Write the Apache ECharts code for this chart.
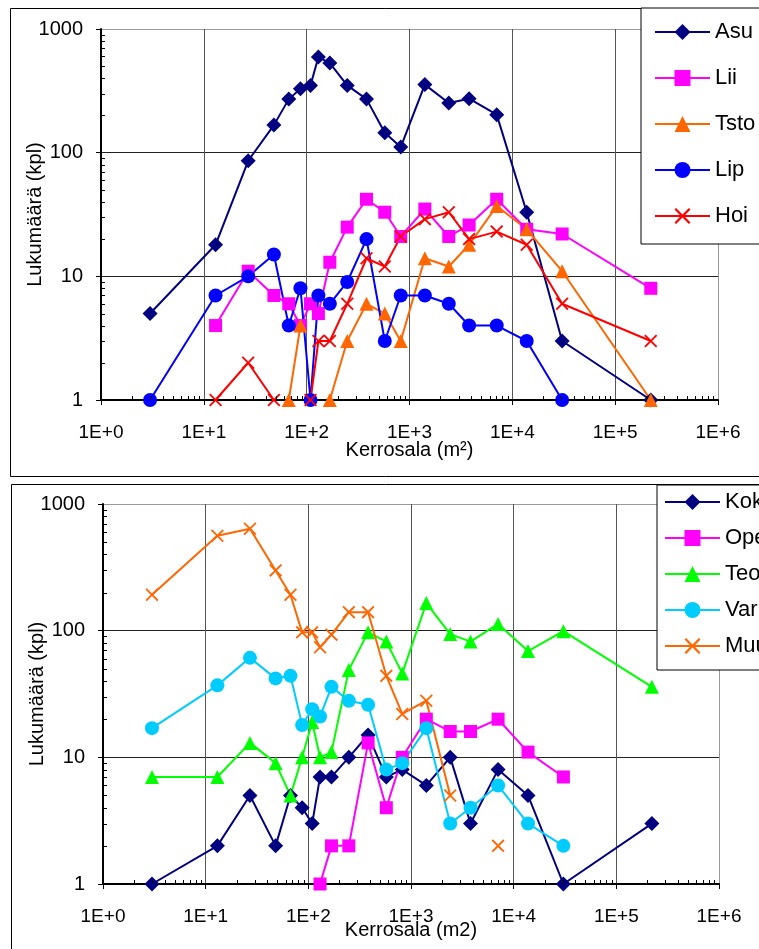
<!DOCTYPE html>
<html>
<head>
<meta charset="utf-8">
<script src="https://cdn.jsdelivr.net/npm/echarts@6/dist/echarts.min.js"></script>
<style>
  html, body { margin: 0; padding: 0; background: #fff; overflow: hidden; }
  #c { width: 759px; height: 949px; }
</style>
</head>
<body>
<div id="c"></div>
<script>
// Floor area classes (m2), shared by every series of both panels
const areas = [3, 13, 27, 48, 67, 87, 109, 130, 168, 248, 382, 575, 822, 1410, 2410, 3800, 7050, 13800, 30500, 222000];

// Upper panel: building counts per floor-area class
const asu  = [5, 18, 86, 167, 271, 329, 350, 593, 530, 350, 271, 145, 111, 355, 252, 273, 203, 33, 3, 1];
const lii  = [null, 4, 11, 7, 6, 4, 6, 5, 13, 25, 42, 33, 21, 35, 21, 26, 42, 24, 22, 8];
const tsto = [null, null, null, null, 1, 4, null, null, 1, 3, 6, 5, 3, 14, 12, 18, 37, 24, 11, 1];
const lip  = [1, 7, 10, 15, 4, 8, 1, 7, 6, 9, 20, 3, 7, 7, 6, 4, 4, 3, 1, null];
const hoi  = [null, 1, 2, 1, null, null, 1, 3, 3, 6, 14, 12, 21, 29, 33, 20, 23, 18, 6, 3];

// Lower panel
const kok = [1, 2, 5, 2, 5, 4, 3, 7, 7, 10, 15, 7, 8, 6, 10, 3, 8, 5, 1, 3];
const ope = [null, null, null, null, null, null, null, 1, 2, 2, 13, 4, 10, 20, 16, 16, 20, 11, 7, null];
const teo = [7, 7, 13, 9, 5, 10, 19, 10, 11, 49, 97, 82, 46, 165, 94, 82, 113, 69, 99, 36];
const vara = [17, 37, 61, 42, 44, 18, 24, 21, 36, 28, 26, 8, 9, 17, 3, 4, 6, 3, 2, null];
const muu = [192, 561, 637, 299, 192, 97, 97, 74, 93, 140, 140, 44, 22, 28, 5, null, 2, null, null, null];

const topNames = ['Asu', 'Lii', 'Tsto', 'Lip', 'Hoi'];
const bottomNames = ['Kok', 'Ope', 'Teo', 'Var', 'Muu'];

const FONT = '"Liberation Sans", Arial, sans-serif';
const X_MARK = 'path://M0,1.2L1.2,0L6,4.8L10.8,0L12,1.2L7.2,6L12,10.8L10.8,12L6,7.2L1.2,12L0,10.8L4.8,6Z';

function pairs(ys) {
  return areas.map((x, i) => [x, ys[i] == null ? '-' : ys[i]]);
}

function line(name, ys, color, symbol, size, g) {
  return {
    name: name,
    type: 'line',
    xAxisIndex: g,
    yAxisIndex: g,
    data: pairs(ys),
    symbol: symbol,
    symbolSize: size,
    showAllSymbol: true,
    clip: false,
    lineStyle: { color: color, width: 2 },
    itemStyle: { color: color },
    emphasis: { disabled: true },
    animation: false
  };
}

function xAxisCfg(g, title, gap) {
  return {
    type: 'log', logBase: 10, min: 1, max: 1e6, gridIndex: g,
    name: title, nameLocation: 'middle', nameGap: gap, nameMoveOverlap: false,
    nameTextStyle: { fontSize: 20, color: '#000', fontFamily: FONT },
    axisLine: { show: true, onZero: false, lineStyle: { color: '#000', width: 2 } },
    axisTick: { show: true, length: 5, lineStyle: { color: '#000', width: 1 } },
    axisLabel: {
      margin: 23, fontSize: 19, color: '#000', fontFamily: FONT,
      formatter: v => '1E+' + Math.round(Math.log10(v))
    },
    splitLine: { show: true, lineStyle: { color: ['#555', '#555', '#555', '#555', '#555', '#555', '#999'], width: 1 } }
  };
}

function yAxisCfg(g) {
  return {
    type: 'log', logBase: 10, min: 1, max: 1000, gridIndex: g,
    name: 'Lukumäärä (kpl)', nameLocation: 'middle', nameRotate: 90, nameGap: 56, nameMoveOverlap: false,
    nameTextStyle: { fontSize: 20, color: '#000', fontFamily: FONT },
    axisLine: { show: true, onZero: false, lineStyle: { color: '#000', width: 2 } },
    axisTick: { show: true, length: 5, lineStyle: { color: '#000', width: 1 } },
    axisLabel: { margin: 18, fontSize: 20, color: '#000', fontFamily: FONT, formatter: v => String(Math.round(v)) },
    splitLine: { show: true, lineStyle: { color: ['#000', '#222', '#222', '#999'], width: 1 } }
  };
}

function legendCfg(names, left, top, padding, gap) {
  return {
    data: names, orient: 'vertical', left: left, top: top,
    padding: padding, itemGap: gap, itemWidth: 55, itemHeight: 20,
    backgroundColor: '#fff', borderColor: '#000', borderWidth: 1,
    selectedMode: false,
    textStyle: { fontSize: 22, color: '#000', fontFamily: FONT }
  };
}

const chart = echarts.init(document.getElementById('c'), null, { renderer: 'canvas' });

chart.setOption({
  animation: false,
  backgroundColor: '#fff',
  grid: [
    { left: 101, top: 29, right: 41, height: 371, containLabel: false },
    { left: 103, top: 504, right: 40, height: 380, containLabel: false }
  ],
  xAxis: [xAxisCfg(0, 'Kerrosala (m²)', 40), xAxisCfg(1, 'Kerrosala (m2)', 36)],
  yAxis: [yAxisCfg(0), yAxisCfg(1)],
  legend: [
    legendCfg(topNames, 641, 8, [13, 80, 17, 13], 24),
    legendCfg(bottomNames, 657, 485, [6, 80, 13, 7], 14)
  ],
  series: [
    line('Asu', asu, '#000080', 'diamond', 15, 0),
    line('Lii', lii, '#FF00FF', 'rect', 13, 0),
    line('Tsto', tsto, '#FF6600', 'triangle', 14, 0),
    line('Lip', lip, '#0000FF', 'circle', 14, 0),
    line('Hoi', hoi, '#FF0000', X_MARK, 13, 0),
    line('Kok', kok, '#000080', 'diamond', 15, 1),
    line('Ope', ope, '#FF00FF', 'rect', 13, 1),
    line('Teo', teo, '#00FF00', 'triangle', 14, 1),
    line('Var', vara, '#00CCFF', 'circle', 14, 1),
    line('Muu', muu, '#FF6600', X_MARK, 13, 1)
  ]
});

// Panel frames and logarithmic minor ticks on both axes
const extras = [
  { type: 'rect', z: 0, shape: { x: 10.5, y: 8.5, width: 800, height: 468 }, style: { fill: 'none', stroke: '#000', lineWidth: 1 } },
  { type: 'rect', z: 0, shape: { x: 11.5, y: 484.5, width: 800, height: 500 }, style: { fill: 'none', stroke: '#000', lineWidth: 1 } }
];
[0, 1].forEach(g => {
  const yBase = chart.convertToPixel({ yAxisIndex: g }, 1);
  const xBase = chart.convertToPixel({ xAxisIndex: g }, 1);
  for (let e = 0; e < 6; e++) {
    for (let k = 2; k <= 9; k++) {
      const px = Math.round(chart.convertToPixel({ xAxisIndex: g }, k * Math.pow(10, e))) + 0.5;
      extras.push({ type: 'line', z: 5, shape: { x1: px, y1: yBase, x2: px, y2: yBase - 4 }, style: { stroke: '#000', lineWidth: 1 } });
    }
  }
  for (let e = 0; e < 3; e++) {
    for (let k = 2; k <= 9; k++) {
      const py = Math.round(chart.convertToPixel({ yAxisIndex: g }, k * Math.pow(10, e))) + 0.5;
      extras.push({ type: 'line', z: 5, shape: { x1: xBase, y1: py, x2: xBase + 4, y2: py }, style: { stroke: '#000', lineWidth: 1 } });
    }
  }
});
chart.setOption({ graphic: extras });
</script>
</body>
</html>
